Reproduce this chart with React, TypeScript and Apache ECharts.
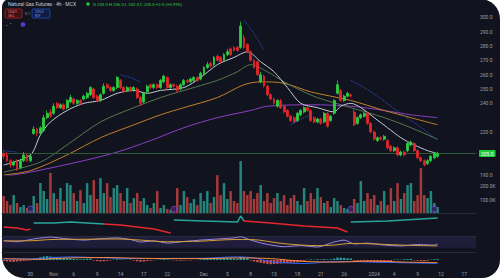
import React, { useEffect, useRef } from "react";
import * as echarts from "echarts";

// ---------- data ----------
const SLOTS = 142; // candle slots on the time axis (incl. empty future space)

// [open, close, low, high]
const candles: number[][] = [
  [205,203,201,207],[204,200,199,206],[200,197,195,201],[197,199,196,200],[199,194,193,201],
  [195,200,194,201],[200,204,199,206],[204,200,199,205],[200,203,199,204],[219,222,218,224],
  [222,219,217,223],[219,223,218,224],[221,230,220,232],[230,233,229,235],[234,231,230,236],
  [233,238,232,240],[240,237,236,241],[237,239,236,240],[239,236,235,240],[237,242,236,243],
  [241,244,240,246],[243,240,239,244],[240,242,239,243],[242,240,239,243],[243,245,242,246],
  [244,247,243,248],[246,251,245,252],[250,244,243,251],[245,242,241,246],[242,246,241,247],
  [247,252,246,254],[253,251,250,254],[251,249,248,252],[249,251,248,252],[251,258,250,259],
  [256,251,250,257],[251,248,247,252],[249,251,248,252],[251,249,248,252],[249,251,248,252],
  [250,244,243,251],[244,240,238,245],[241,247,240,248],[248,252,247,253],[253,251,250,254],
  [251,253,250,254],[253,251,250,254],[251,256,250,257],[255,259,254,260],[258,251,250,259],
  [251,253,250,254],[253,252,251,254],[252,249,248,253],[250,253,249,254],[253,256,252,257],
  [256,255,254,257],[255,257,254,258],[256,258,255,259],[258,256,255,259],[257,261,256,262],
  [260,265,259,266],[265,267,264,269],[268,266,265,269],[267,272,266,273],[273,270,269,274],
  [272,269,268,273],[270,274,269,275],[274,276,273,278],[278,274,273,279],[279,277,276,280],
  [279,277,276,280],[279,294,278,297],[286,279,278,288],[281,276,275,282],[276,270,269,277],
  [270,265,264,271],[269,260,259,270],[255,260,254,262],[259,252,251,260],[252,246,245,253],
  [246,243,242,247],[243,240,239,244],[238,242,237,243],[242,237,236,243],[238,234,233,239],
  [235,231,230,236],[231,228,227,232],[230,227,226,231],[228,233,227,234],[232,235,231,236],
  [234,237,233,238],[237,235,234,238],[235,228,227,236],[230,227,226,231],[227,229,226,230],
  [229,226,225,230],[227,233,226,234],[233,224,223,234],[228,231,227,232],[233,242,232,243],
  [247,253,246,256],[249,242,241,250],[242,245,241,246],[245,247,244,248],[246,245,244,247],
  [234,225,224,236],[226,230,225,231],[230,232,229,233],[231,233,230,234],[233,226,225,234],
  [226,220,219,227],[220,215,214,221],[214,216,213,217],[216,215,214,217],[215,217,214,218],
  [214,209,208,215],[210,207,206,211],[207,209,206,210],[209,204,203,210],[204,206,203,207],
  [206,204,203,207],[207,212,206,213],[211,213,210,214],[212,207,206,213],[207,202,201,208],
  [202,200,199,203],[200,197,196,201],[198,200,197,201],[200,203,199,204],[202,205,201,206],
  [203,205,202,206],
];

// volume, thousands
const volumes: number[] = [
  126,89,59,133,74,44,59,37,30,126,
  74,222,163,104,296,148,104,185,89,222,
  207,148,89,170,74,222,133,244,104,259,
  148,222,118,185,207,148,89,185,74,111,
  148,89,111,59,37,74,163,37,59,30,
  22,44,185,59,163,118,74,104,59,148,
  89,163,74,118,281,133,222,104,163,89,
  74,385,163,133,163,104,148,207,89,148,
  74,111,148,89,133,59,111,133,89,59,
  185,89,148,104,185,118,74,89,44,111,
  89,59,37,30,44,104,74,237,89,148,
  104,133,59,89,163,59,185,89,222,104,
  148,207,222,89,133,333,133,111,163,74,
  44,
];

// moving averages: [bar index, value]
const maFast: number[][] = [[0,197],[8,204],[11,218],[14,227],[19,235],[24,240],[29,242],[34,247],[39,249],[43,247],[47,249],[54,251],[59,258],[64,267],[69,272],[73,276],[77,269],[81,262],[85,251],[89,240],[94,237],[99,234],[101,238],[104,240],[107,237],[111,230],[115,223],[119,216],[123,211],[127,207],[130,205]];
const maMid: number[][] = [[0,192],[11,199],[19,211],[29,227],[39,237],[47,244],[54,249],[64,256],[70,262],[74,267],[79,262],[84,255],[89,249],[94,244],[104,237],[114,230],[122,223],[129,216],[130,215]];
const maSlow: number[][] = [[0,190],[8,193],[19,204],[29,216],[39,225],[47,232],[54,237],[64,244],[72,253],[77,255],[84,254],[92,248],[104,242],[114,235],[122,230],[130,225]];
const maLong: number[][] = [[0,189],[8,192],[24,200],[34,206],[44,214],[54,223],[64,230],[74,235],[79,238],[92,239],[104,238],[114,235],[122,232],[130,230]];

// dotted blue band pieces
const bandPieces: number[][][] = [
  [[0,207],[4,206]],
  [[35,260],[38,258],[41,255]],
  [[72,298],[74,292],[76,285],[78,277]],
  [[86,225],[89,229],[92,232]],
  [[104,256],[108,251],[112,245],[116,238],[120,231],[124,225],[128,218],[130,214]],
];

// event markers under volume
const eventBars: number[] = [8, 51, 104, 129];

// second pane indicator pieces: [index, value], and direction
const pane2Pieces: { up: boolean; pts: number[][] }[] = [
  { up: false, pts: [[0,22.45],[4,22.18],[7,21.63],[8,21.9]] },
  { up: true, pts: [[9,23.54],[15,23.54],[20,23.81],[25,23.54],[30,23.27]] },
  { up: false, pts: [[30,23.27],[35,23.0],[40,22.45],[45,21.9],[50,20.82]] },
  { up: true, pts: [[51,24.36],[60,24.09],[70,23.81],[71,25.45],[72,24.09]] },
  { up: false, pts: [[72,24.09],[80,23.54],[90,22.72],[100,22.18],[103,21.09]] },
  { up: true, pts: [[104,23.81],[115,24.09],[125,24.63],[130,24.9]] },
];

// RSI and its average
const rsi: number[][] = [[0,56],[4,52],[9,62],[14,69],[18,64],[24,58],[29,63],[34,66],[38,60],[41,51],[45,55],[49,47],[54,53],[59,58],[64,62],[69,66],[71,70],[74,58],[78,45],[84,34],[89,38],[94,33],[99,51],[102,58],[105,44],[109,47],[114,40],[119,37],[124,42],[129,40],[130,44]];
const rsiAvg: number[][] = [[0,55],[9,56],[14,60],[24,61],[34,62],[41,58],[49,52],[59,54],[69,60],[74,60],[84,45],[94,38],[99,40],[104,46],[109,45],[119,40],[130,37]];

// MACD
const macdHist: number[] = [
  -0.6,-0.8,-1,-1.1,-0.9,-0.7,-0.5,-0.4,-0.2,
  0.8,1.2,1.6,2,2.2,2,1.8,1.5,1.3,1.2,1,0.9,
  0.6,0.5,0.4,0.5,0.7,0.8,
  -0.3,-0.6,-0.8,-0.7,-0.5,-0.3,
  0.2,0.4,0.3,0.2,0.1,0.2,
  -0.3,-0.7,-1,-0.9,-0.6,-0.4,-0.2,
  0.2,0.3,0.5,0.3,0.2,
  -0.2,-0.3,-0.4,-0.3,-0.2,-0.2,-0.1,-0.1,
  0.4,0.7,0.9,1,1.2,1.1,1,1.1,1.2,1,0.8,0.7,
  1.8,1.4,0.9,
  -0.3,-0.8,-1.3,-1.6,-1.9,-2.2,-2.4,-2.3,-2.2,-2,-1.9,-1.8,-1.6,-1.5,-1.3,-1,-0.7,
  0.2,0.3,0.2,0.4,0.3,0.5,0.3,0.4,
  0.8,1.4,1.3,1.2,1,0.9,
  -0.4,-0.6,-0.7,-0.8,-1,-1.2,-1.5,-1.5,-1.4,-1.3,-1.2,-1,
  0.2,0.3,0.2,0.4,0.5,0.6,
  -0.2,-0.4,-0.6,-0.7,-0.5,
  0.2,0.4,0.5,
];
const macdLine: number[][] = [[0,0.5],[10,0.8],[20,1.8],[30,1.2],[40,0.8],[50,0.9],[60,1.0],[70,1.8],[75,1.2],[80,-1.0],[90,-2.0],[100,-0.8],[110,-1.2],[120,-1.6],[130,-2.0]];
const signalLine: number[][] = [[0,0.8],[10,0.4],[20,1.2],[30,1.4],[40,1.0],[50,0.8],[60,0.8],[70,1.2],[80,0.8],[90,-0.8],[100,-1.2],[110,-0.6],[120,-1.2],[130,-1.5]];

// time axis labels: [bar index, text]
const xLabels: [number, string][] = [
  [8,"30"],[15,"Nov"],[21,"6"],[28,"9"],[35,"14"],[42,"17"],[49,"22"],[60,"Dec"],[67,"5"],
  [74,"8"],[81,"13"],[88,"18"],[95,"21"],[102,"26"],[111,"2024"],[117,"4"],[124,"9"],[131,"12"],[138,"17"],
];

// ---------- styling ----------
const BG = "#11141f";
const UP = "#2bd13f";
const DOWN = "#e5262b";
const VUP = "#23857b";
const VDOWN = "#a53a3a";
const TXT = "#9a9da6";
const FONT = "Roboto, sans-serif";

function tag(value: number, bg: string, fg = "#ffffff", digits = 1, dy = 0) {
  return {
    symbol: ["none", "none"],
    silent: true,
    lineStyle: { opacity: 0 },
    label: {
      position: "end",
      distance: 3,
      offset: [0, dy],
      formatter: value.toFixed(digits),
      backgroundColor: bg,
      color: fg,
      fontSize: 5,
      fontFamily: FONT,
      padding: [1, 2, 1, 2],
      borderRadius: 1,
    },
    data: [{ yAxis: value }],
  };
}

export default function App() {
  const ref = useRef<HTMLDivElement>(null);

  useEffect(() => {
    const chart = echarts.init(ref.current!, null, { renderer: "svg" });
    const categories = Array.from({ length: SLOTS }, (_, i) => String(i));
    const labelMap: Record<number, string> = {};
    xLabels.forEach(([i, t]) => (labelMap[i] = t));
    const last = candles[candles.length - 1];
    const prev = candles[candles.length - 2];
    const chg = last[1] - last[0];
    const lastOf = (a: number[][]) => a[a.length - 1][1];

    const grids = [
      { left: 2, right: 24, top: 3, height: 172 },
      { left: 2, right: 24, top: 151, height: 62 },
      { left: 2, right: 24, top: 214, height: 22 },
      { left: 2, right: 24, top: 234, height: 18 },
      { left: 2, right: 24, top: 253, height: 14 },
    ];

    const xAxis = grids.map((_, k) => ({
      type: "category",
      gridIndex: k,
      data: categories,
      boundaryGap: true,
      axisLine: { show: k >= 1 && k <= 3, lineStyle: { color: "#262a37", width: 1 } },
      axisTick: { show: false },
      splitLine: { show: false },
      axisLabel:
        k === 4
          ? {
              show: true,
              interval: 0,
              formatter: (_v: string, idx: number) => labelMap[idx] ?? "",
              color: TXT,
              fontSize: 5,
              fontFamily: FONT,
              margin: 4,
            }
          : { show: false },
    }));

    const hiddenY = (k: number, min: number, max: number) => ({
      type: "value",
      gridIndex: k,
      position: "right",
      min,
      max,
      axisLine: { show: false },
      axisTick: { show: false },
      axisLabel: { show: false },
      splitLine: { show: false },
    });

    const yAxis = [
      {
        type: "value",
        gridIndex: 0,
        position: "right",
        min: 190,
        max: 310,
        interval: 10,
        axisLine: { show: false },
        axisTick: { show: false },
        splitLine: { show: false },
        axisLabel: {
          color: TXT,
          fontSize: 5,
          fontFamily: FONT,
          margin: 4,
          formatter: (v: number) =>
            (v >= 240 && v <= 300) || v === 220 || v === 190 ? v.toFixed(1) : "",
        },
      },
      {
        type: "value",
        gridIndex: 1,
        position: "right",
        min: 0,
        max: 460,
        interval: 100,
        axisLine: { show: false },
        axisTick: { show: false },
        splitLine: { show: false },
        axisLabel: {
          color: TXT,
          fontSize: 5,
          fontFamily: FONT,
          margin: 4,
          formatter: (v: number) => (v === 100 || v === 200 ? v.toFixed(1) + "K" : ""),
        },
      },
      hiddenY(2, 20, 26),
      hiddenY(3, 15, 80),
      hiddenY(4, -4, 4),
    ];

    const line = (data: number[][], color: string, x: number, width = 1, extra: any = {}) => ({
      type: "line",
      xAxisIndex: x,
      yAxisIndex: x,
      data,
      showSymbol: false,
      symbol: "none",
      smooth: 0.3,
      lineStyle: { color, width },
      itemStyle: { color },
      z: 4,
      ...extra,
    });

    const series: any[] = [
      {
        type: "candlestick",
        xAxisIndex: 0,
        yAxisIndex: 0,
        data: candles,
        barWidth: 2.4,
        z: 5,
        itemStyle: { color: UP, color0: DOWN, borderColor: UP, borderColor0: DOWN, borderWidth: 0.8 },
        markLine: {
          symbol: ["none", "none"],
          silent: true,
          lineStyle: { color: "#2b5a34", type: "solid", width: 1 },
          label: {
            position: "end",
            distance: 3,
            formatter: last[1].toFixed(1),
            backgroundColor: "#1fc83a",
            color: "#ffffff",
            fontSize: 5,
            fontFamily: FONT,
            padding: [1, 2, 1, 2],
            borderRadius: 1,
          },
          data: [{ yAxis: last[1] }],
        },
      },
      line(maLong, "#8b3fc6", 0, 1, { markLine: tag(lastOf(maLong), "#8b3fc6") }),
      line(maSlow, "#c27f2a", 0, 1, { markLine: tag(lastOf(maSlow), "#d08a2c") }),
      line(maMid, "#55774f", 0, 1, { markLine: tag(lastOf(maMid), "#2f6b3a") }),
      line(maFast, "#c6c8d2", 0, 1),
      ...bandPieces.map((p) =>
        line(p, "#2c55c9", 0, 1, { smooth: false, lineStyle: { color: "#2c55c9", width: 1, type: "dotted" } })
      ),
      {
        type: "bar",
        xAxisIndex: 1,
        yAxisIndex: 1,
        barWidth: "75%",
        z: 1,
        data: volumes.map((v, i) => ({
          value: v,
          itemStyle: { color: candles[i][1] >= candles[i][0] ? VUP : VDOWN },
        })),
        markLine: tag(volumes[volumes.length - 1], "#1f8074", "#ffffff", 1, 1),
      },
      {
        type: "scatter",
        xAxisIndex: 1,
        yAxisIndex: 1,
        data: eventBars.map((i) => [i, 28]),
        symbol: "circle",
        symbolSize: 6,
        z: 6,
        itemStyle: { color: "#2a1f55", borderColor: "#7b4fe0", borderWidth: 1 },
      },
      ...pane2Pieces.map((p, idx) =>
        line(p.pts, p.up ? "#26a69a" : DOWN, 2, 1.5, {
          smooth: false,
          markLine: idx === pane2Pieces.length - 1 ? tag(lastOf(p.pts), "#1f8074", "#ffffff", 2, 1) : undefined,
        })
      ),
      line(rsi, "#9a86e6", 3, 1, {
        smooth: 0.2,
        markArea: {
          silent: true,
          itemStyle: { color: "rgba(110,80,200,0.16)" },
          data: [[{ yAxis: 70 }, { yAxis: 30 }]],
        },
        markLine: tag(lastOf(rsi), "#7e57c2", "#ffffff", 2, -2),
      }),
      line(rsiAvg, "#d6a032", 3, 1, { markLine: tag(lastOf(rsiAvg), "#d6a032", "#111111", 2, 4) }),
      {
        type: "bar",
        xAxisIndex: 4,
        yAxisIndex: 4,
        barWidth: "70%",
        data: macdHist.map((v) => ({
          value: v,
          itemStyle: { color: v >= 0 ? "#26a69a" : "#d9534f" },
        })),
        markLine: tag(macdHist[macdHist.length - 1], "#1f8074", "#ffffff", 1, -2),
      },
      line(macdLine, "#2962ff", 4, 1, { markLine: tag(lastOf(macdLine), "#2962ff", "#ffffff", 1, 3) }),
      line(signalLine, "#ff8a3d", 4, 1),
    ];

    const sign = chg >= 0 ? "+" : "";
    const ohlc = `O ${last[0].toFixed(1)} H ${last[3].toFixed(1)} L ${last[2].toFixed(1)} C ${last[1].toFixed(1)} ${sign}${chg.toFixed(1)} (${sign}${((chg / last[0]) * 100).toFixed(2)}%)`;

    const txt = (text: string, x: number, y: number, fill: string, size = 5, extra: any = {}) => ({
      type: "text",
      x,
      y,
      z: 100,
      silent: true,
      style: { text, fill, fontSize: size, fontFamily: FONT, verticalAlign: "middle", ...extra },
    });

    const option: any = {
      animation: false,
      backgroundColor: "#ffffff",
      textStyle: { fontFamily: FONT },
      grid: grids,
      xAxis,
      yAxis,
      series,
      graphic: [
        {
          type: "rect",
          z: -100,
          silent: true,
          shape: { x: 2, y: -1, width: 498, height: 279, r: [8, 20, 18, 22] },
          style: { fill: BG },
        },
        txt("Natural Gas Futures · 4h · MCX", 8, 4, "#c9ccd5"),
        { type: "circle", z: 100, silent: true, shape: { cx: 88, cy: 4, r: 1.8 }, style: { fill: "#1fc83a" } },
        txt(ohlc, 93, 4, "#2bd13f", 4.3),
        {
          type: "rect",
          z: 100,
          silent: true,
          shape: { x: 5, y: 9, width: 17, height: 9, r: 1.5 },
          style: { fill: "#3a1218", stroke: DOWN, lineWidth: 0.6 },
        },
        txt((last[1] - 0.1).toFixed(1), 8, 12, "#ff6b6b", 3.5),
        txt("SELL", 8, 15.5, "#ff6b6b", 3),
        txt("0.1", 25, 13.5, TXT, 3.5),
        {
          type: "rect",
          z: 100,
          silent: true,
          shape: { x: 32, y: 9, width: 18, height: 9, r: 1.5 },
          style: { fill: "#111b3d", stroke: "#2962ff", lineWidth: 0.6 },
        },
        txt(last[1].toFixed(1), 35, 12, "#6f95ff", 3.5),
        txt("BUY", 35, 15.5, "#6f95ff", 3),
        txt("⌄ ⌃", 5, 24.5, TXT, 4),
        { type: "circle", z: 100, silent: true, shape: { cx: 23, cy: 24.5, r: 2.4 }, style: { fill: "#5a36c8" } },
      ],
    };

    chart.setOption(option);
    return () => chart.dispose();
  }, []);

  return (
    <div
      ref={ref}
      style={{ position: "absolute", left: 0, top: 0, width: 500, height: 280 }}
    />
  );
}
